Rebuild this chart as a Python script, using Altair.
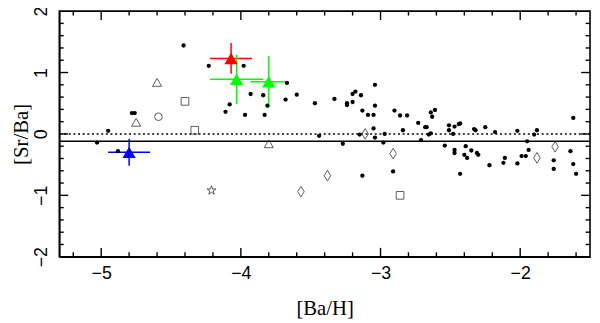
import altair as alt
import pandas as pd

# ---- data ----
dots_x = [-5.03, -4.95, -4.88, -4.78, -4.76, -4.41, -4.23, -4.11, -4.08, -3.98, -3.97, -3.93,
          -3.84, -3.83, -3.81, -3.68, -3.67, -3.60, -3.47, -3.44, -3.33, -3.27, -3.24, -3.24,
          -3.20, -3.18, -3.20, -3.15, -3.14, -3.13, -3.13, -3.09, -3.05, -3.05, -3.04, -3.04,
          -3.04, -2.98, -2.97, -2.91, -2.90, -2.86, -2.81, -2.84, -2.73, -2.71, -2.68, -2.67,
          -2.655, -2.64, -2.64, -2.63, -2.61, -2.54, -2.51, -2.51, -2.48, -2.47, -2.44, -2.43,
          -2.47, -2.47, -2.43, -2.39, -2.40, -2.38, -2.35, -2.33, -2.32, -2.31, -2.30, -2.25,
          -2.22, -2.18, -2.12, -2.11, -2.02, -2.02, -1.99, -1.96, -1.95, -1.94, -1.90, -1.88,
          -1.76, -1.76, -1.64, -1.62, -1.62, -1.60]
dots_y = [-0.14, 0.05, -0.28, 0.34, 0.34, 1.44, 1.11, 0.36, 0.48, 1.11, 0.31, 0.65,
          0.63, 0.31, 0.46, 0.56, 0.83, 0.64, 0.50, -0.03, 0.57, -0.16, 0.50, 0.47,
          0.65, 0.69, 0.52, -0.01, 0.63, 0.38, -0.68, 0.31, 0.31, 0.09, 0.80, 0.46,
          -0.06, -0.14, 0.00, -0.61, 0.38, 0.30, 0.30, 0.06, 0.18, -0.10, 0.11, 0.11,
          -0.01, 0.01, 0.35, 0.28, 0.39, -0.19, 0.14, 0.06, 0.00, 0.12, 0.16, 0.17,
          -0.26, -0.31, -0.65, -0.20, -0.34, -0.39, -0.27, 0.08, 0.06, -0.31, -0.34, 0.11,
          -0.51, 0.03, -0.47, -0.39, 0.05, -0.48, -0.36, -0.36, -0.12, -0.26, -0.01, 0.06,
          -0.43, -0.57, -0.28, 0.26, -0.49, -0.65]

tri_x = [-4.75, -4.60, -3.80]
tri_y = [0.19, 0.84, -0.16]
circ_x = [-4.59]
circ_y = [0.28]
sq_x = [-4.40, -4.33, -2.86]
sq_y = [0.53, 0.06, -1.00]
dia_x = [-3.57, -3.38, -3.11, -2.91, -1.88, -1.75]
dia_y = [-0.94, -0.68, 0.00, -0.32, -0.39, -0.21]
star_x = [-4.21]
star_y = [-0.92]

col_x = [-4.80, -4.07, -4.03, -3.80]
col_y = [-0.30, 1.23, 0.89, 0.85]
col_xerr = [0.15, 0.15, 0.19, 0.13]
col_yerr = [0.22, 0.25, 0.40, 0.42]
col_color = ["#0000ff", "#ff0000", "#00ff00", "#00ff00"]

ref_lines = [0.0, -0.12]

x_major = [-5, -4, -3, -2]
x_minor = [-5.2, -4.8, -4.6, -4.4, -4.2, -3.8, -3.6, -3.4, -3.2, -2.8, -2.6, -2.4, -2.2, -1.8, -1.6]
y_major = [-1, 0, 1]
y_minor = [-1.8, -1.6, -1.4, -1.2, -0.8, -0.6, -0.4, -0.2, 0.2, 0.4, 0.6, 0.8, 1.2, 1.4, 1.6, 1.8]

W, H = 538, 249

xs = alt.Scale(domain=[-5.3, -1.5], nice=False, zero=False)
ys = alt.Scale(domain=[-2, 2], nice=False, zero=False)

xaxis = alt.Axis(values=x_major, ticks=False, domain=True, domainColor="black", domainWidth=1.6,
                 grid=False, format="d",
                 labelFont="Liberation Sans", labelFontSize=18, labelColor="black", labelPadding=8,
                 title="[Ba/H]", titleFont="Liberation Serif", titleFontSize=21,
                 titleFontWeight="normal", titleColor="black", titlePadding=16)
yaxis = alt.Axis(values=[-2, -1, 0, 1, 2], ticks=False, domain=True, domainColor="black", domainWidth=1.6,
                 grid=False, format="d", labelFlush=True,
                 labelFont="Liberation Sans", labelFontSize=18, labelColor="black", labelPadding=9,
                 labelAngle=-90, labelAlign="center", labelBaseline="bottom",
                 title="[Sr/Ba]", titleFont="Liberation Serif", titleFontSize=21,
                 titleFontWeight="normal", titleColor="black", titlePadding=1)

X = alt.X("x:Q", scale=xs, axis=xaxis)
Y = alt.Y("y:Q", scale=ys, axis=yaxis)

def df(xv, yv):
    return pd.DataFrame({"x": xv, "y": yv})

layers = []

# inward ticks on all four sides
for vals, L in [(x_major, 9), (x_minor, 4.5)]:
    d = pd.DataFrame({"x": vals})
    layers.append(alt.Chart(d).mark_rule(color="black", strokeWidth=1.4).encode(
        x=X, y=alt.value(H), y2=alt.value(H - L)))
    layers.append(alt.Chart(d).mark_rule(color="black", strokeWidth=1.4).encode(
        x=X, y=alt.value(0), y2=alt.value(L)))
for vals, L in [(y_major, 9), (y_minor, 4.5)]:
    d = pd.DataFrame({"y": vals})
    layers.append(alt.Chart(d).mark_rule(color="black", strokeWidth=1.4).encode(
        y=Y, x=alt.value(0), x2=alt.value(L)))
    layers.append(alt.Chart(d).mark_rule(color="black", strokeWidth=1.4).encode(
        y=Y, x=alt.value(W), x2=alt.value(W - L)))

# reference lines
layers.append(alt.Chart(pd.DataFrame({"y": [ref_lines[0]]})).mark_rule(
    color="black", strokeWidth=1.5, strokeDash=[2, 2.7]).encode(y=Y))
layers.append(alt.Chart(pd.DataFrame({"y": [ref_lines[1]]})).mark_rule(
    color="black", strokeWidth=1.4).encode(y=Y))

# coloured points with error bars
cdf = pd.DataFrame({"x": col_x, "y": col_y, "xe": col_xerr, "ye": col_yerr, "c": col_color})
cdf["xlo"] = cdf["x"] - cdf["xe"]
cdf["xhi"] = cdf["x"] + cdf["xe"]
cdf["ylo"] = cdf["y"] - cdf["ye"]
cdf["yhi"] = cdf["y"] + cdf["ye"]
col_enc = alt.Color("c:N", scale=None, legend=None)
layers.append(alt.Chart(cdf).mark_rule(strokeWidth=1.5).encode(
    x=alt.X("xlo:Q", scale=xs, axis=xaxis), x2="xhi:Q", y=Y, color=col_enc))
layers.append(alt.Chart(cdf).mark_rule(strokeWidth=1.5).encode(
    x=X, y=alt.Y("ylo:Q", scale=ys, axis=yaxis), y2="yhi:Q", color=col_enc))
layers.append(alt.Chart(cdf).mark_point(shape="triangle-up", filled=True, size=180, opacity=1).encode(
    x=X, y=Y, color=col_enc))

# small black dots
layers.append(alt.Chart(df(dots_x, dots_y)).mark_circle(color="black", size=19, opacity=1).encode(x=X, y=Y))

# open symbols
ocol = "#333333"
layers.append(alt.Chart(df(tri_x, tri_y)).mark_point(shape="triangle-up", filled=False, size=85,
              color=ocol, strokeWidth=0.8, opacity=1).encode(x=X, y=Y))
layers.append(alt.Chart(df(circ_x, circ_y)).mark_point(shape="circle", filled=False, size=60,
              color=ocol, strokeWidth=0.8, opacity=1).encode(x=X, y=Y))
layers.append(alt.Chart(df(sq_x, sq_y)).mark_point(shape="square", filled=False, size=60,
              color=ocol, strokeWidth=0.8, opacity=1).encode(x=X, y=Y))
layers.append(alt.Chart(df(dia_x, dia_y)).mark_point(shape="M0,-1L0.62,0L0,1L-0.62,0Z", filled=False, size=115,
              color=ocol, strokeWidth=0.8, opacity=1).encode(x=X, y=Y))
star_path = ("M0,-1L0.225,-0.309L0.951,-0.309L0.363,0.118L0.588,0.809L0,0.382"
             "L-0.588,0.809L-0.363,0.118L-0.951,-0.309L-0.225,-0.309Z")
layers.append(alt.Chart(df(star_x, star_y)).mark_point(shape=star_path, filled=False, size=90,
              color=ocol, strokeWidth=0.8, opacity=1).encode(x=X, y=Y))

chart = alt.layer(*layers).properties(
    width=W, height=H,
    background="white",
    autosize=alt.AutoSizeParams(type="none"),
    padding={"left": 52, "top": 1, "right": 2, "bottom": 66},
).configure_view(stroke="black", strokeWidth=1.6)

chart.save("out.html", embed_options={"renderer": "svg", "actions": False})
